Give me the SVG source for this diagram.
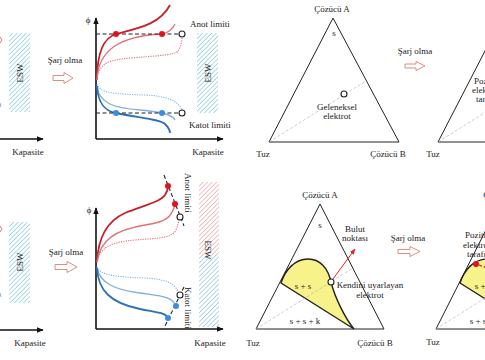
<svg xmlns="http://www.w3.org/2000/svg" width="485" height="360" viewBox="0 0 485 360">
<defs>
<pattern id="hb" width="3.2" height="3.2" patternUnits="userSpaceOnUse" patternTransform="rotate(45)">
<line x1="0" y1="0" x2="0" y2="3.2" stroke="#7cc9dc" stroke-width="1.3"/>
</pattern>
<pattern id="hr" width="3.2" height="3.2" patternUnits="userSpaceOnUse" patternTransform="rotate(45)">
<line x1="0" y1="0" x2="0" y2="3.2" stroke="#eba0a8" stroke-width="1.3"/>
</pattern>
<pattern id="hb2" width="3.2" height="3.2" patternUnits="userSpaceOnUse" patternTransform="rotate(45)">
<line x1="0" y1="0" x2="0" y2="3.2" stroke="#8fc0e0" stroke-width="1.3"/>
</pattern>
<marker id="ax" viewBox="0 0 10 10" refX="9" refY="5" markerWidth="7" markerHeight="7" orient="auto" markerUnits="userSpaceOnUse">
<path d="M0,1 L10,5 L0,9 Z" fill="#111"/>
</marker>
<marker id="ra" viewBox="0 0 10 10" refX="9" refY="5" markerWidth="6" markerHeight="6" orient="auto" markerUnits="userSpaceOnUse">
<path d="M0,1 L10,5 L0,9 Z" fill="#d8262e"/>
</marker>
</defs>
<style>
text{font-family:"Liberation Serif","Times New Roman",serif;fill:#222;font-size:9px}
.c{text-anchor:middle}
.ax{stroke:#111;stroke-width:1.6;fill:none}
.lim{stroke:#222;stroke-width:1.1;stroke-dasharray:4,2.5;fill:none}
.oc{fill:#fff;stroke:#222;stroke-width:1.1}
.r1{stroke:#c62128;stroke-width:1.8;fill:none}
.r2{stroke:#e07078;stroke-width:1.3;fill:none}
.r3{stroke:#e07078;stroke-width:1.1;stroke-dasharray:1.2,1.2;fill:none}
.b1{stroke:#2d72b8;stroke-width:1.8;fill:none}
.b2{stroke:#7fb0dc;stroke-width:1.3;fill:none}
.b3{stroke:#7fb8e0;stroke-width:1.1;stroke-dasharray:1.2,1.2;fill:none}
.rd{fill:#e0141e}
.bd{fill:#3b8de0}
.ha{fill:#fff;stroke:#d98274;stroke-width:0.9}
.tri{fill:none;stroke:#222;stroke-width:1}
.gl{stroke:#aaa;stroke-width:0.6;stroke-dasharray:3,2;fill:none}
.yl{fill:#f8f28a;stroke:#222;stroke-width:1.4}
</style>

<!-- cropped left panels -->
<g id="left-top">
<path d="M0,37 L2,40 L0,43" stroke="#e07078" stroke-width="1" fill="none"/>
<path d="M0,103 L1,107" stroke="#7fb0dc" stroke-width="1" fill="none"/>
<line x1="0" y1="139" x2="43" y2="139" class="ax" marker-end="url(#ax)"/>
<text x="28" y="155" class="c">Kapasite</text>
<rect x="9" y="33" width="21" height="79" fill="url(#hb)"/>
<text transform="translate(23,73) rotate(-90)" class="c" font-size="10">ESW</text>
</g>
<g id="left-bottom">
<path d="M0,226 L2,229 L0,232" stroke="#e07078" stroke-width="1" fill="none"/>
<path d="M0,293 L1,297" stroke="#7fb0dc" stroke-width="1" fill="none"/>
<line x1="0" y1="330" x2="43" y2="330" class="ax" marker-end="url(#ax)"/>
<text x="30" y="346" class="c">Kapasite</text>
<rect x="9" y="222" width="21" height="81" fill="url(#hb)"/>
<text transform="translate(23,262) rotate(-90)" class="c" font-size="10">ESW</text>
</g>

<!-- arrows "Şarj olma" -->
<g id="sarj1"><text x="65" y="63" class="c">Şarj olma</text>
<path d="M53,75.5 H64 V72.5 L73,78 L64,83.5 V80.5 H53 Z" class="ha"/></g>
<g id="sarj2"><text x="66" y="255" class="c">Şarj olma</text>
<path d="M55,264.5 H67 V261.5 L77,267 L67,272.5 V269.5 H55 Z" class="ha"/></g>
<g id="sarj3"><text x="415" y="54" class="c">Şarj olma</text>
<path d="M405,64 H416 V61.5 L425,66 L416,70.5 V68 H405 Z" class="ha"/></g>
<g id="sarj4"><text x="408" y="241" class="c">Şarj olma</text>
<path d="M398,249.5 H410 V246.5 L420,251.5 L410,256.5 V253.5 H398 Z" class="ha"/></g>

<!-- top chart -->
<g id="chart-top">
<line x1="96" y1="139" x2="96" y2="18" class="ax" marker-end="url(#ax)"/>
<line x1="96" y1="139" x2="223" y2="139" class="ax" marker-end="url(#ax)"/>
<text x="88" y="23" class="c" font-size="10">ϕ</text>
<text x="208" y="155" class="c">Kapasite</text>
<rect x="197" y="33" width="21" height="80" fill="url(#hb)"/>
<text transform="translate(211,73) rotate(-90)" class="c" font-size="10">ESW</text>
<path d="M97,80 C97,55 103,38 116,34 C140,28 160,24 170,5" class="r1"/>
<path d="M97,80 C98,50 120,36 162,34 C168,33 172,30 175,24" class="r2"/>
<path d="M97,80 C99,62 110,60 130,58 C155,56 175,55 178,51 C181,47 182,41 182,37" class="r3"/>
<path d="M97,84 C100,93 115,94 145,95 C168,96 178,101 182,110" class="b3"/>
<path d="M97,86 C99,104 115,108 140,110 C160,112 172,114 175,120" class="b2"/>
<path d="M97,86 C98,104 105,111 116,113 C140,118 160,119 165,124 C168,127 170,131 170,133" class="b1"/>
<line x1="96" y1="34" x2="179" y2="34" class="lim"/>
<line x1="96" y1="113" x2="179" y2="113" class="lim"/>
<circle cx="182" cy="34" r="3" class="oc"/>
<circle cx="182" cy="113" r="3" class="oc"/>
<circle cx="116" cy="34" r="3" class="rd"/>
<circle cx="162" cy="34" r="3" class="rd"/>
<circle cx="116" cy="113" r="3" class="bd"/>
<circle cx="162" cy="113" r="3" class="bd"/>
<text x="190" y="27">Anot limiti</text>
<text x="189" y="128">Katot limiti</text>
</g>

<!-- bottom chart -->
<g id="chart-bottom">
<line x1="96" y1="329" x2="96" y2="208" class="ax" marker-end="url(#ax)"/>
<line x1="96" y1="329" x2="223" y2="329" class="ax" marker-end="url(#ax)"/>
<text x="89" y="213" class="c" font-size="10">ϕ</text>
<text x="210" y="346" class="c">Kapasite</text>
<rect x="199" y="182" width="20" height="73" fill="url(#hr)"/>
<rect x="199" y="255" width="20" height="72" fill="url(#hb2)"/>
<text transform="translate(205,250) rotate(90)" class="c" font-size="10">ESW</text>
<path d="M97,262 C98,240 105,222 125,213 C145,205 160,202 165,195 C167,192 168,189 168,186" class="r1"/>
<path d="M97,262 C100,240 115,230 145,225 C165,222 172,218 175,204" class="r2"/>
<path d="M97,262 C100,248 110,242 135,240 C160,238 172,238 176,230 C178,225 179,221 179,219" class="r3"/>
<path d="M97,267 C100,275 115,277 145,278 C165,279 175,283 178,292" class="b3"/>
<path d="M97,268 C100,283 115,290 140,293 C160,296 172,296 176,306" class="b2"/>
<path d="M97,268 C98,290 110,303 140,309 C160,313 166,313 168,318" class="b1"/>
<line x1="164" y1="175" x2="184" y2="226" class="lim"/>
<line x1="184" y1="287" x2="164" y2="328" class="lim"/>
<circle cx="180" cy="217" r="3" class="oc"/>
<circle cx="180" cy="295" r="3" class="oc"/>
<circle cx="168" cy="186" r="3" class="rd"/>
<circle cx="175" cy="204" r="3" class="rd"/>
<circle cx="176" cy="306" r="3" class="bd"/>
<circle cx="168" cy="318" r="3" class="bd"/>
<text transform="translate(185,173) rotate(90)">Anot limiti</text>
<text transform="translate(185,287) rotate(90)">Katot limiti</text>
</g>

<!-- top ternary -->
<g id="tri-top">
<path d="M333,18 L269,142 L399,142 Z" class="tri"/>
<line x1="269" y1="142" x2="366" y2="81" class="gl"/>
<circle cx="344" cy="94" r="3" class="oc"/>
<text x="332" y="12" class="c">Çözücü A</text>
<text x="334" y="36" class="c">s</text>
<text x="337" y="110" class="c">Geleneksel</text>
<text x="337" y="119" class="c">elektrot</text>
<text x="263" y="157" class="c">Tuz</text>
<text x="388" y="157" class="c">Çözücü B</text>
</g>
<g id="tri-top-partial">
<path d="M502,18 L438,142 L568,142 Z" class="tri"/>
<line x1="438" y1="142" x2="535" y2="81" class="gl"/>
<text x="474" y="84">Pozitif</text>
<text x="472" y="93">elektrot</text>
<text x="476" y="102">tarafı</text>
<text x="433" y="157" class="c">Tuz</text>
</g>

<!-- bottom ternary -->
<g id="tri-bottom">
<path d="M281,283 C285,270 295,259 308,259 C320,259 328,268 331,282 C335,298 345,318 354,329 Z" class="yl"/>
<path d="M320,204 L256,329 L384,329 Z" class="tri"/>
<line x1="256" y1="329" x2="353" y2="268" class="gl"/>
<line x1="333" y1="279" x2="355" y2="249" stroke="#d8262e" stroke-width="1" marker-end="url(#ra)"/>
<circle cx="331" cy="282" r="3" class="oc"/>
<text x="320" y="198" class="c">Çözücü A</text>
<text x="320" y="228" class="c" font-size="10">s</text>
<text x="303" y="289" class="c" font-size="10.5">s + s</text>
<text x="305" y="324" class="c" font-size="10.5">s + s + k</text>
<text x="355" y="232" class="c">Bulut</text>
<text x="355" y="241" class="c">noktası</text>
<text x="370" y="288" class="c">Kendini uyarlayan</text>
<text x="370" y="298" class="c">elektrot</text>
<text x="253" y="346" class="c">Tuz</text>
<text x="375" y="346" class="c">Çözücü B</text>
</g>
<g id="tri-bottom-partial">
<path d="M460,283 C464,270 474,259 487,259 C499,259 507,268 510,282 C514,298 524,318 533,329 Z" class="yl"/>
<path d="M499,204 L436,329 L564,329 Z" class="tri"/>
<line x1="436" y1="329" x2="533" y2="268" class="gl"/>
<line x1="479" y1="265" x2="490" y2="269" stroke="#e0141e" stroke-width="1.3" stroke-dasharray="3,2"/>
<circle cx="476" cy="264" r="3" class="rd"/>
<text x="501" y="198" class="c">Çözücü A</text>
<text x="465" y="238">Pozitif</text>
<text x="463" y="248">elektrot</text>
<text x="467" y="257">tarafı</text>
<text x="483" y="289" class="c" font-size="10.5">s + s</text>
<text x="485" y="324" class="c" font-size="10.5">s + s + k</text>
<text x="433" y="345" class="c">Tuz</text>
</g>
</svg>
